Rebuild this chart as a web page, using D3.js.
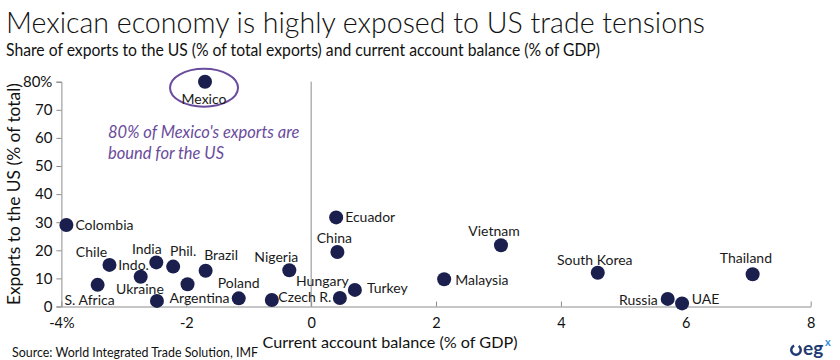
<!DOCTYPE html>
<html>
<head>
<meta charset="utf-8">
<script src="https://cdn.jsdelivr.net/npm/d3@7/dist/d3.min.js"></script>
<style>
  html, body { margin: 0; padding: 0; background: #fff; }
  svg { display: block; }
  text { font-family: Lato, "Open Sans", sans-serif; }
</style>
</head>
<body>
<svg id="chart" width="840" height="360"></svg>
<script>
// ---- Data ----
const countries = ["Mexico","Colombia","S. Africa","Chile","Indo.","India","Ukraine","Phil.","Argentina","Brazil","Poland","Czech R.","Nigeria","Ecuador","China","Hungary","Turkey","Malaysia","Vietnam","South Korea","Russia","UAE","Thailand"];
const currentAccount = [-1.70,-3.92,-3.42,-3.23,-2.73,-2.48,-2.47,-2.21,-1.98,-1.69,-1.16,-0.63,-0.35,0.40,0.42,0.46,0.70,2.13,3.04,4.59,5.71,5.94,7.07];
const exportsToUS = [80,29.0,7.7,14.8,10.6,15.7,2.0,14.2,7.9,12.7,2.9,2.3,12.9,31.7,19.4,3.0,5.9,9.7,21.8,12.0,2.7,1.1,11.5];
const xTicks = [-4,-2,0,2,4,6,8];
const xTickLabels = ["-4%","-2","0","2","4","6","8"];
const yTicks = [0,10,20,30,40,50,60,70,80];
const yTickLabels = ["0","10","20","30","40","50","60","70","80%"];

const titleText = "Mexican economy is highly exposed to US trade tensions";
const subtitleText = "Share of exports to the US (% of total exports) and current account balance (% of GDP)";
const xTitle = "Current account balance (% of GDP)";
const yTitle = "Exports to the US (% of total)";
const sourceText = "Source: World Integrated Trade Solution, IMF";
const noteLines = ["80% of Mexico's exports are", "bound for the US"];

// ---- Label placement (layout only) ----
const labelPlace = {
  "Mexico":      {dx:-1,  dy:17.6, a:"middle"},
  "Colombia":    {dx:9,   dy:0,    a:"start"},
  "S. Africa":   {dx:-8,  dy:15,   a:"middle"},
  "Chile":       {dx:-18, dy:-13,  a:"middle"},
  "Indo.":       {dx:-22.5,dy:-12, a:"start"},
  "India":       {dx:-9.5,dy:-13,  a:"middle"},
  "Ukraine":     {dx:-17, dy:-12,  a:"middle"},
  "Phil.":       {dx:10,  dy:-15.5,a:"middle"},
  "Argentina":   {dx:12,  dy:14,   a:"middle"},
  "Brazil":      {dx:15.5,dy:-15.7,a:"middle"},
  "Poland":      {dx:0,   dy:-15.6,a:"middle"},
  "Czech R.":    {dx:6.5, dy:-3,   a:"start"},
  "Nigeria":     {dx:-13, dy:-13.6,a:"middle"},
  "Ecuador":     {dx:9,   dy:0,    a:"start"},
  "China":       {dx:-3,  dy:-14,  a:"middle"},
  "Hungary":     {dx:-17.5,dy:-17.3,a:"middle"},
  "Turkey":      {dx:12,  dy:-2,   a:"start"},
  "Malaysia":    {dx:11,  dy:1,    a:"start"},
  "Vietnam":     {dx:-7,  dy:-14.6,a:"middle"},
  "South Korea": {dx:-3,  dy:-12.7,a:"middle"},
  "Russia":      {dx:-10, dy:1,    a:"end"},
  "UAE":         {dx:9.7, dy:-4,   a:"start"},
  "Thailand":    {dx:-6.7,dy:-16,  a:"middle"}
};

const data = countries.map((c,i) => ({name:c, x:currentAccount[i], y:exportsToUS[i]}));

const svg = d3.select("#chart");
const x = d3.scaleLinear().domain([-4, 8]).range([61.4, 810.7]);
const y = d3.scaleLinear().domain([0, 80]).range([306.5, 81.7]);
const axisColor = "#8c8c8c";

// Title / subtitle
svg.append("text").attr("x", 6).attr("y", 33).attr("font-size", 30).attr("fill", "#111")
  .attr("font-weight", 300)
  .attr("textLength", 699).attr("lengthAdjust", "spacingAndGlyphs").text(titleText);
svg.append("text").attr("x", 6).attr("y", 56).attr("font-size", 17).attr("fill", "#111")
  .attr("textLength", 594).attr("lengthAdjust", "spacingAndGlyphs").text(subtitleText);

// Y axis (left)
const yAxis = d3.axisLeft(y).tickValues(yTicks).tickSize(5).tickPadding(4)
  .tickFormat((d,i) => yTickLabels[i]);
const gy = svg.append("g").attr("transform", `translate(${x(-4)},0)`).call(yAxis);
gy.select(".domain").attr("stroke", axisColor);
gy.selectAll(".tick line").attr("stroke", axisColor);
gy.selectAll(".tick text").attr("font-size", 15).attr("fill", "#111").attr("font-family", "Lato, sans-serif");

// X axis (bottom) with inward ticks
const xAxis = d3.axisBottom(x).tickValues(xTicks).tickSizeInner(-5).tickSizeOuter(0).tickPadding(11)
  .tickFormat((d,i) => xTickLabels[i]);
const gx = svg.append("g").attr("transform", `translate(0,${y(0)})`).call(xAxis);
gx.select(".domain").attr("stroke", axisColor);
gx.selectAll(".tick line").attr("stroke", axisColor);
gx.selectAll(".tick text").attr("font-size", 14.5).attr("fill", "#111").attr("font-family", "Lato, sans-serif");

// Vertical zero line
svg.append("line").attr("x1", x(0)).attr("x2", x(0)).attr("y1", y(80)).attr("y2", y(0))
  .attr("stroke", axisColor).attr("stroke-width", 1);

// Axis titles
svg.append("text").attr("x", 390).attr("y", 348).attr("text-anchor", "middle")
  .attr("font-size", 16).attr("fill", "#111")
  .attr("textLength", 255).attr("lengthAdjust", "spacingAndGlyphs").text(xTitle);
svg.append("text").attr("transform", `translate(20,${(y(0)+y(80))/2}) rotate(-90)`)
  .attr("text-anchor", "middle").attr("font-size", 17).attr("fill", "#111")
  .attr("textLength", 222).attr("lengthAdjust", "spacingAndGlyphs").text(yTitle);

// Mexico ellipse
const mex = data[0];
svg.append("ellipse").attr("cx", x(mex.x) - 1).attr("cy", y(mex.y) + 6)
  .attr("rx", 34).attr("ry", 19).attr("fill", "none")
  .attr("stroke", "#6a4c9c").attr("stroke-width", 2);

// Points
svg.append("g").selectAll("circle").data(data).join("circle")
  .attr("cx", d => x(d.x)).attr("cy", d => y(d.y)).attr("r", 7)
  .attr("fill", "#1b1f4d");

// Labels
svg.append("g").selectAll("text").data(data).join("text")
  .attr("x", d => x(d.x) + labelPlace[d.name].dx)
  .attr("y", d => y(d.y) + labelPlace[d.name].dy)
  .attr("dy", "0.35em")
  .attr("text-anchor", d => labelPlace[d.name].a)
  .attr("font-size", 14).attr("fill", "#1a1a1a")
  .text(d => d.name);

// Annotation
svg.append("g").selectAll("text").data(noteLines).join("text")
  .attr("x", 108).attr("y", (d,i) => 138 + i*21)
  .attr("font-size", 16.5).attr("font-style", "italic").attr("fill", "#6a4c9c")
  .text(d => d);

// Source
svg.append("text").attr("x", 12).attr("y", 357).attr("font-size", 13.5).attr("fill", "#111")
  .attr("textLength", 246).attr("lengthAdjust", "spacingAndGlyphs")
  .text(sourceText);

// Logo
const logo = svg.append("g");
logo.append("path")
  .attr("d", d3.arc()({innerRadius: 3.5, outerRadius: 6, startAngle: 0.6, endAngle: 2*Math.PI - 0.4}))
  .attr("transform", "translate(796,350)").attr("fill", "#1f3b73");
logo.append("text").attr("x", 803).attr("y", 355).attr("font-size", 19).attr("font-weight", 700)
  .attr("fill", "#1f3b73").text("eg");
logo.append("text").attr("x", 825).attr("y", 346).attr("font-size", 11).attr("font-weight", 700)
  .attr("fill", "#3d8fd6").text("x");
</script>
</body>
</html>
